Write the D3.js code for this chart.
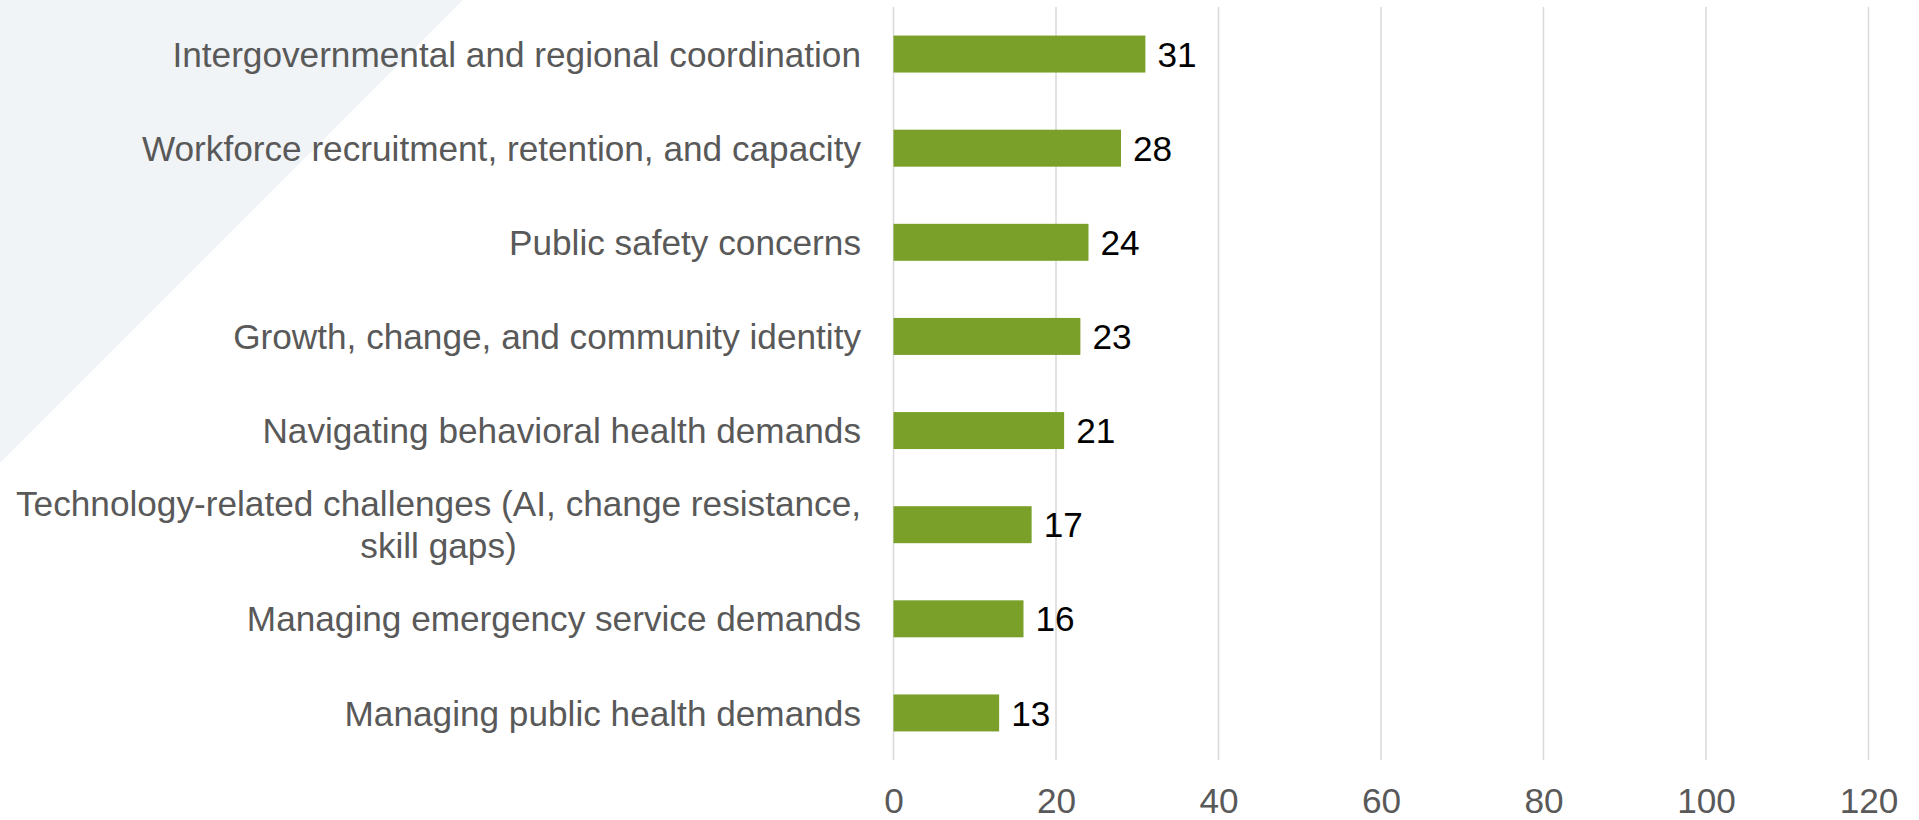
<!DOCTYPE html>
<html>
<head>
<meta charset="utf-8">
<script src="https://cdn.jsdelivr.net/npm/d3@7"></script>
<style>
  html, body { margin: 0; padding: 0; background: #ffffff; }
  svg { display: block; }
</style>
</head>
<body>
<svg id="chart" width="1919" height="820"></svg>
<script>
// Categories, top to bottom, with their counts
const categories = [
  ["Intergovernmental and regional coordination"],
  ["Workforce recruitment, retention, and capacity"],
  ["Public safety concerns"],
  ["Growth, change, and community identity"],
  ["Navigating behavioral health demands"],
  ["Technology-related challenges (AI, change resistance,", "skill gaps)"],
  ["Managing emergency service demands"],
  ["Managing public health demands"]
];
const values = [31, 28, 24, 23, 21, 17, 16, 13];
const xTicks = [0, 20, 40, 60, 80, 100, 120];

const W = 1919, H = 820;
const plot = { left: 893.5, right: 1868.5, top: 7, bottom: 760 };
const fontFamily = "'Liberation Sans', Arial, Helvetica, sans-serif";
const fontSize = 35.2;

const svg = d3.select("#chart");

// Pale corner wedge in the top-left
svg.append("path")
  .attr("d", "M0,0 L463,0 L0,463 Z")
  .attr("fill", "#f1f4f7");

const x = d3.scaleLinear().domain([0, 120]).range([plot.left, plot.right]);
const y = d3.scaleBand()
  .domain(d3.range(categories.length))
  .range([plot.top, plot.bottom])
  .paddingInner(0.607)
  .paddingOuter(0.3035);

// Vertical gridlines
svg.append("g")
  .selectAll("line")
  .data(xTicks)
  .join("line")
  .attr("x1", d => x(d)).attr("x2", d => x(d))
  .attr("y1", plot.top).attr("y2", plot.bottom)
  .attr("stroke", "#d9d9d9")
  .attr("stroke-width", 1.5);

// Bottom axis labels
const xAxis = d3.axisBottom(x).tickValues(xTicks).tickSize(0).tickPadding(0);
const axisG = svg.append("g")
  .attr("transform", `translate(0,${plot.bottom})`)
  .call(xAxis);
axisG.select(".domain").remove();
axisG.selectAll("text")
  .attr("y", 53)
  .attr("dy", null)
  .attr("fill", "#595959")
  .style("font-family", fontFamily)
  .style("font-size", fontSize + "px");

// Bars
svg.append("g")
  .selectAll("rect")
  .data(values)
  .join("rect")
  .attr("x", x(0))
  .attr("y", (d, i) => y(i))
  .attr("width", d => x(d) - x(0))
  .attr("height", y.bandwidth())
  .attr("fill", "#7aa02a");

// Value labels at the bar ends
svg.append("g")
  .selectAll("text")
  .data(values)
  .join("text")
  .attr("x", d => x(d) + 12)
  .attr("y", (d, i) => y(i) + y.bandwidth() / 2)
  .attr("dy", "0.36em")
  .attr("fill", "#000000")
  .style("font-family", fontFamily)
  .style("font-size", fontSize + "px")
  .text(d => d);

// Category labels, right-aligned block; wrapped lines centred within it
const labelRight = 861;
const lineH = 42;
const labelG = svg.append("g");
categories.forEach((lines, i) => {
  const cy = y(i) + y.bandwidth() / 2;
  const t = labelG.append("text")
    .attr("fill", "#595959")
    .style("font-family", fontFamily)
    .style("font-size", fontSize + "px");
  if (lines.length === 1) {
    t.attr("x", labelRight).attr("y", cy).attr("dy", "0.36em")
      .attr("text-anchor", "end").text(lines[0]);
  } else {
    // measure the widest line to centre the block
    const probe = labelG.append("text")
      .style("font-family", fontFamily)
      .style("font-size", fontSize + "px")
      .text(lines[0]);
    const wMax = probe.node().getComputedTextLength();
    probe.remove();
    const cx = labelRight - wMax / 2;
    lines.forEach((ln, k) => {
      t.append("tspan")
        .attr("x", cx)
        .attr("y", cy + (k - (lines.length - 1) / 2) * lineH)
        .attr("dy", "0.36em")
        .attr("text-anchor", "middle")
        .text(ln);
    });
  }
});
</script>
</body>
</html>
